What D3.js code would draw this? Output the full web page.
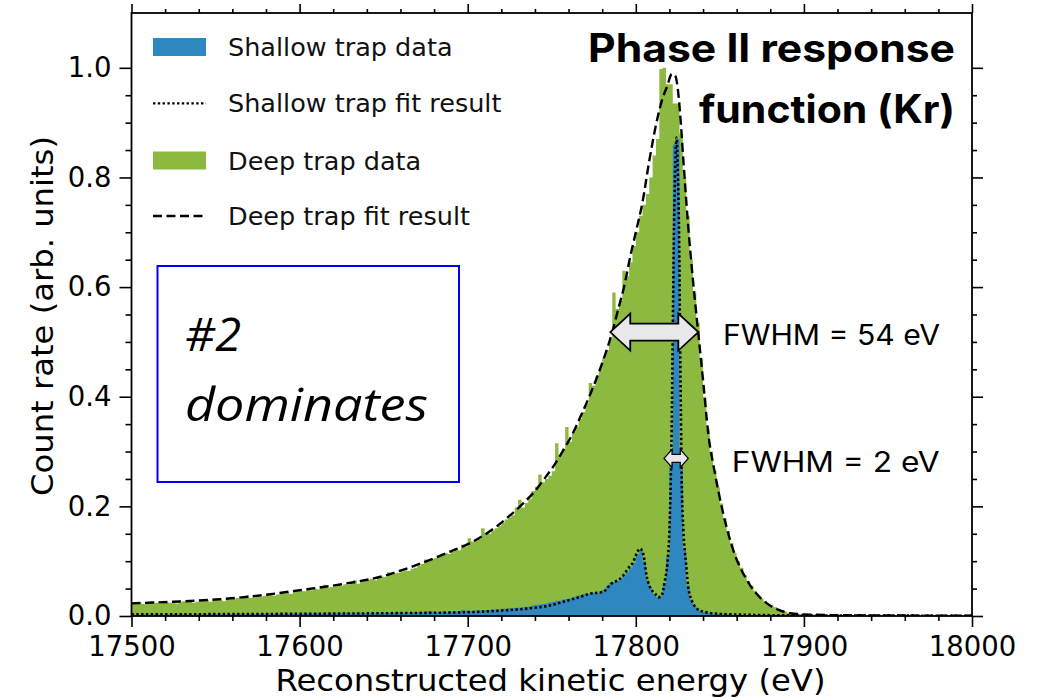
<!DOCTYPE html>
<html>
<head>
<meta charset="utf-8">
<script src="https://cdn.jsdelivr.net/npm/d3@7"></script>
<style>
body { margin: 0; background: #fff; }
svg { display: block; }
</style>
</head>
<body>
<div id="chart"></div>
<script>
// histogram bins, 2 eV wide, starting at 17500 eV
var binStart = 17500, binWidth = 2;

var deepData = [
  .022,.023,.024,.022,.023,.026,.027,.024,.023,.025,
  .025,.024,.026,.023,.025,.027,.026,.028,.024,.026,
  .028,.027,.029,.026,.028,.030,.029,.027,.031,.030,
  .031,.033,.032,.036,.038,.033,.034,.036,.035,.037,
  .038,.040,.037,.039,.042,.041,.043,.040,.044,.045,
  .046,.045,.048,.047,.050,.049,.052,.057,.051,.053,
  .054,.056,.055,.058,.057,.060,.065,.059,.062,.064,
  .066,.068,.065,.070,.072,.071,.080,.076,.078,.079,
  .081,.083,.082,.086,.088,.092,.095,.103,.101,.104,
  .106,.108,.111,.115,.113,.117,.121,.120,.130,.127,
  .142,.136,.138,.141,.160,.152,.150,.156,.160,.164,
  .170,.176,.180,.184,.198,.212,.198,.206,.214,.228,
  .236,.258,.244,.250,.256,.264,.315,.294,.305,.345,
  .318,.335,.345,.360,.372,.388,.425,.420,.438,.452,
  .470,.485,.505,.590,.560,.575,.630,.620,.645,.675,
  .700,.730,.750,.770,.800,.840,.870,.998,1.000,.970,
  .970,.935,.935,.880,.800,.730,.650,.590,.535,.470,
  .400,.340,.300,.265,.235,.205,.178,.155,.133,.115,
  .100,.088,.075,.064,.055,.046,.038,.032,.027,.022,
  .019,.016,.012,.010,.008,.006,.005,.004,.004,.003,
  .003,.003,.002,.003,.002,.002,.002,.002,.002,.0015,
  .002,.0015,.0015,.0015,.0015,.001,.0015,.001,.001,.001,
  .001,.001,.0012,.001,.001,.0009,.001,.0009,.0009,.0008,
  .0008,.0008,.0008,.0007,.0007,.0008,.0007,.0007,.0006,.0006,
  .0006,.0006,.0006,.0005,.0005,.0005,.0005,.0005,.0004,.0004
];

var shallowData = [
  .002,.002,.002,.003,.002,.002,.003,.002,.003,.002,
  .003,.002,.003,.003,.002,.003,.003,.003,.002,.003,
  .003,.003,.003,.004,.003,.003,.003,.004,.003,.003,
  .004,.003,.004,.003,.004,.004,.003,.004,.004,.004,
  .004,.003,.004,.004,.005,.004,.004,.004,.005,.004,
  .004,.005,.005,.004,.005,.005,.004,.005,.005,.005,
  .005,.005,.005,.006,.005,.005,.005,.006,.006,.005,
  .006,.005,.005,.006,.006,.006,.005,.006,.006,.007,
  .006,.006,.006,.007,.006,.007,.007,.007,.009,.008,
  .007,.007,.008,.007,.008,.008,.008,.009,.011,.010,
  .009,.009,.010,.010,.010,.011,.011,.012,.012,.012,
  .013,.013,.014,.014,.015,.015,.016,.017,.017,.019,
  .020,.021,.022,.023,.025,.026,.028,.028,.030,.031,
  .032,.034,.036,.038,.040,.039,.041,.043,.042,.044,
  .048,.054,.060,.062,.064,.068,.074,.080,.088,.097,
  .112,.120,.100,.065,.050,.040,.034,.037,.060,.110,
  .300,.860,.870,.300,.120,.055,.030,.018,.012,.009,
  .007,.006,.005,.004,.004,.003,.003,.003,.002,.002,
  .002,.002,.002,.002,.0015,.0015,.0015,.0015,.001,.001,
  .001,.001,.001,.001,.001,.0008,.0008,.0008,.0008,.0007,
  .0007,.0007,.0006,.0006,.0006,.0006,.0005,.0005,.0005,.0005,
  .0005,.0005,.0004,.0004,.0004,.0004,.0004,.0004,.0003,.0003,
  .0003,.0003,.0003,.0003,.0003,.0003,.0003,.0003,.0003,.0003,
  .0002,.0002,.0002,.0002,.0002,.0002,.0002,.0002,.0002,.0002,
  .0002,.0002,.0002,.0002,.0002,.0002,.0002,.0002,.0002,.0002
];

// fit curves (energy, value)
var deepFitE = [17500,17525,17550,17575,17600,17625,17650,17665,17678,17690,
  17701,17710,17717,17725,17733,17740,17745,17751,17757,17762,
  17767,17772,17777,17781,17786,17790,17793,17797,17800,17804,
  17808,17813,17816,17818.5,17821.5,17823.5,17825.3,17827,17828.3,17831.2,
  17835.2,17837.2,17840.2,17843.1,17847.1,17852,17858,17866,17872,17878,
  17885,17892,17900,17920,17950,18000];
var deepFitV = [.023,.026,.030,.037,.047,.058,.073,.088,.103,.118,
  .1325,.148,.163,.183,.2055,.228,.248,.273,.303,.33,
  .363,.398,.436,.47,.518,.565,.600,.66,.70,.755,
  .83,.91,.945,.965,.989,.985,.953,.89,.831,.710,
  .575,.515,.424,.333,.260,.187,.120,.066,.040,.023,
  .011,.005,.003,.0015,.001,.0005];

var shallowFitE = [17500,17600,17650,17700,17720,17737,17750,17757,17767,17773,
  17779,17782,17785,17788,17792,17795.5,17798.5,17800.5,17802.5,17804.5,
  17806.5,17808.4,17811.4,17813.4,17815.4,17817.4,17818.8,17820,17820.8,17821.5,
  17822,17822.6,17823.3,17824.2,17825.1,17825.8,17826.3,17826.8,17827.3,17828.3,
  17829.9,17831.2,17833.2,17836.2,17840,17850,17870,17900,18000];
var shallowFitV = [.003,.004,.005,.007,.010,.014,.020,.026,.035,.041,
  .043,.047,.058,.063,.072,.087,.099,.114,.123,.112,
  .072,.053,.041,.034,.038,.066,.096,.157,.248,.38,
  .52,.68,.80,.873,.80,.68,.52,.38,.248,.157,
  .096,.053,.029,.014,.008,.004,.002,.001,.0005];

var xTicks = [17500, 17600, 17700, 17800, 17900, 18000];
var yTicks = [0, 0.2, 0.4, 0.6, 0.8, 1.0];
var legendLabels = ["Shallow trap data", "Shallow trap fit result", "Deep trap data", "Deep trap fit result"];
var titleLines = ["Phase II response", "function (Kr)"];
var boxLines = ["#2", "dominates"];
var fwhmLabels = ["FWHM = 54 eV", "FWHM = 2 eV"];
// FWHM arrows: [left energy, right energy, height]
var fwhmArrows = [[17784.8, 17837.2, 0.518], [17816.8, 17831.2, 0.2875]];

var blue = "#2f87c0", green = "#8cb940";

var width = 1040, height = 698;
var margin = {top: 13, right: 68, bottom: 82, left: 131.5};

var svg = d3.select("#chart")
  .append("svg")
    .attr("width", width)
    .attr("height", height)
    .style("background", "#fff");

var x = d3.scaleLinear().domain([17500, 18000]).range([margin.left, width - margin.right]);
var y = d3.scaleLinear().domain([0, 1.1]).range([height - margin.bottom, margin.top]);

svg.append("clipPath").attr("id", "plotclip")
  .append("rect")
    .attr("x", margin.left).attr("y", margin.top)
    .attr("width", width - margin.left - margin.right)
    .attr("height", height - margin.top - margin.bottom);

var plot = svg.append("g").attr("clip-path", "url(#plotclip)");

function binPoints(arr) {
  var pts = arr.map(function(v, i) { return [binStart + i * binWidth, v]; });
  pts.push([binStart + arr.length * binWidth, arr[arr.length - 1]]);
  return pts;
}

var histArea = d3.area()
  .curve(d3.curveStepAfter)
  .x(function(d) { return x(d[0]); })
  .y0(y(0))
  .y1(function(d) { return y(d[1]); });

plot.append("path").attr("d", histArea(binPoints(deepData))).attr("fill", green);
plot.append("path").attr("d", histArea(binPoints(shallowData))).attr("fill", blue);

var fitLine = d3.line()
  .curve(d3.curveMonotoneX)
  .x(function(d) { return x(d[0]); })
  .y(function(d) { return y(d[1]); });

plot.append("path")
  .attr("d", fitLine(deepFitE.map(function(e, i) { return [e, deepFitV[i]]; })))
  .attr("fill", "none").attr("stroke", "#000")
  .attr("stroke-width", 2.4).attr("stroke-dasharray", "9,4.5");

plot.append("path")
  .attr("d", fitLine(shallowFitE.map(function(e, i) { return [e, shallowFitV[i]]; })))
  .attr("fill", "none").attr("stroke", "#000")
  .attr("stroke-width", 2.6).attr("stroke-dasharray", "2.4,2.4");

// axes, ticks outward on all four sides
var xMinor = d3.range(17500, 18001, 20).filter(function(d) { return d % 100 !== 0; });
var yMinor = d3.range(0, 21).map(function(i) { return i * 0.05; }).filter(function(d, i) { return i % 4 !== 0; });

function styleAxis(g) {
  g.select(".domain").remove();
  g.selectAll("line").attr("stroke", "#000").attr("stroke-width", 1.6);
  g.selectAll("text").attr("font-family", "DejaVu Sans").attr("font-size", "27.5px").attr("fill", "#000");
}

var yb = height - margin.bottom;
svg.append("g").attr("transform", "translate(0," + yb + ")")
  .call(d3.axisBottom(x).tickValues(xTicks).tickSize(11).tickPadding(9).tickFormat(d3.format("d")))
  .call(styleAxis);
svg.append("g").attr("transform", "translate(0," + yb + ")")
  .call(d3.axisBottom(x).tickValues(xMinor).tickSize(5).tickFormat(""))
  .call(styleAxis);
svg.append("g").attr("transform", "translate(0," + margin.top + ")")
  .call(d3.axisTop(x).tickValues(xTicks).tickSize(9).tickFormat(""))
  .call(styleAxis);
svg.append("g").attr("transform", "translate(0," + margin.top + ")")
  .call(d3.axisTop(x).tickValues(xMinor).tickSize(4).tickFormat(""))
  .call(styleAxis);
svg.append("g").attr("transform", "translate(" + margin.left + ",0)")
  .call(d3.axisLeft(y).tickValues(yTicks).tickSize(12).tickPadding(8).tickFormat(d3.format(".1f")))
  .call(styleAxis);
svg.append("g").attr("transform", "translate(" + margin.left + ",0)")
  .call(d3.axisLeft(y).tickValues(yMinor).tickSize(6).tickFormat(""))
  .call(styleAxis);
svg.append("g").attr("transform", "translate(" + (width - margin.right) + ",0)")
  .call(d3.axisRight(y).tickValues(yTicks).tickSize(11).tickFormat(""))
  .call(styleAxis);
svg.append("g").attr("transform", "translate(" + (width - margin.right) + ",0)")
  .call(d3.axisRight(y).tickValues(yMinor).tickSize(5).tickFormat(""))
  .call(styleAxis);

svg.append("rect")
  .attr("x", margin.left).attr("y", margin.top)
  .attr("width", width - margin.left - margin.right)
  .attr("height", height - margin.top - margin.bottom)
  .attr("fill", "none").attr("stroke", "#000").attr("stroke-width", 1.8);

// axis titles
svg.append("text")
  .attr("x", 550.5).attr("y", 691)
  .attr("text-anchor", "middle")
  .attr("font-family", "DejaVu Sans").attr("font-size", "30px")
  .attr("textLength", 550).attr("lengthAdjust", "spacingAndGlyphs")
  .text("Reconstructed kinetic energy (eV)");

svg.append("text")
  .attr("transform", "translate(53,316) rotate(-90)")
  .attr("text-anchor", "middle")
  .attr("font-family", "DejaVu Sans").attr("font-size", "30px")
  .attr("textLength", 360).attr("lengthAdjust", "spacingAndGlyphs")
  .text("Count rate (arb. units)");

// legend
var legend = svg.append("g");
var legY = [47, 103.3, 160.5, 216];
legendLabels.forEach(function(lab, i) {
  if (i === 0 || i === 2) {
    legend.append("rect").attr("x", 153).attr("y", legY[i] - 9)
      .attr("width", 53).attr("height", 18)
      .attr("fill", i === 0 ? blue : green);
  } else {
    legend.append("line").attr("x1", 153).attr("x2", 206)
      .attr("y1", legY[i]).attr("y2", legY[i])
      .attr("stroke", "#000")
      .attr("stroke-width", i === 1 ? 2.2 : 2.4)
      .attr("stroke-dasharray", i === 1 ? "2.4,2.4" : "9,4.5");
  }
  legend.append("text")
    .attr("x", 228).attr("y", legY[i] + 9)
    .attr("font-family", "DejaVu Sans").attr("font-size", "25.5px")
    .attr("fill", "#111")
    .text(lab);
});

// title
svg.selectAll(".title").data(titleLines).enter()
  .append("text")
    .attr("x", 955)
    .attr("y", function(d, i) { return 62 + i * 61; })
    .attr("text-anchor", "end")
    .attr("font-family", "Inter").attr("font-weight", "bold")
    .attr("font-size", "39px")
    .attr("textLength", function(d, i) { return i === 0 ? 367 : 256; })
    .attr("lengthAdjust", "spacingAndGlyphs")
    .text(function(d) { return d; });

// blue box
svg.append("rect")
  .attr("x", 157.5).attr("y", 266)
  .attr("width", 301.5).attr("height", 216)
  .attr("fill", "none").attr("stroke", "#0000ff").attr("stroke-width", 2);

svg.selectAll(".boxtxt").data(boxLines).enter()
  .append("text")
    .attr("x", 185)
    .attr("y", function(d, i) { return 351 + i * 70; })
    .attr("font-family", "Open Sans").attr("font-style", "italic")
    .attr("font-size", "46px")
    .attr("textLength", function(d, i) { return i === 0 ? 56 : 243; })
    .attr("lengthAdjust", "spacingAndGlyphs")
    .text(function(d) { return d; });

// FWHM arrows
function doubleArrow(x1, x2, cy, hl, hh, sh) {
  return "M" + x1 + "," + cy +
    "L" + (x1 + hl) + "," + (cy - hh) +
    "L" + (x1 + hl) + "," + (cy - sh) +
    "L" + (x2 - hl) + "," + (cy - sh) +
    "L" + (x2 - hl) + "," + (cy - hh) +
    "L" + x2 + "," + cy +
    "L" + (x2 - hl) + "," + (cy + hh) +
    "L" + (x2 - hl) + "," + (cy + sh) +
    "L" + (x1 + hl) + "," + (cy + sh) +
    "L" + (x1 + hl) + "," + (cy + hh) + "Z";
}

var arrowShape = [[20, 18.5, 8.5, 1.8], [8, 9, 4, 1.2]];
fwhmArrows.forEach(function(a, i) {
  var s = arrowShape[i];
  svg.append("path")
    .attr("d", doubleArrow(x(a[0]), x(a[1]), y(a[2]), s[0], s[1], s[2]))
    .attr("fill", "#e8e8e8").attr("stroke", "#000")
    .attr("stroke-width", s[3]).attr("stroke-linejoin", "miter");
});

var fwhmPos = [[723, 345], [731.7, 471.7]];
svg.selectAll(".fwhm").data(fwhmLabels).enter()
  .append("text")
    .attr("x", function(d, i) { return fwhmPos[i][0]; })
    .attr("y", function(d, i) { return fwhmPos[i][1]; })
    .attr("font-family", "Inter").attr("font-size", "28px")
    .attr("textLength", function(d, i) { return i === 0 ? 217 : 208; })
    .attr("lengthAdjust", "spacingAndGlyphs")
    .text(function(d) { return d; });
</script>
</body>
</html>
